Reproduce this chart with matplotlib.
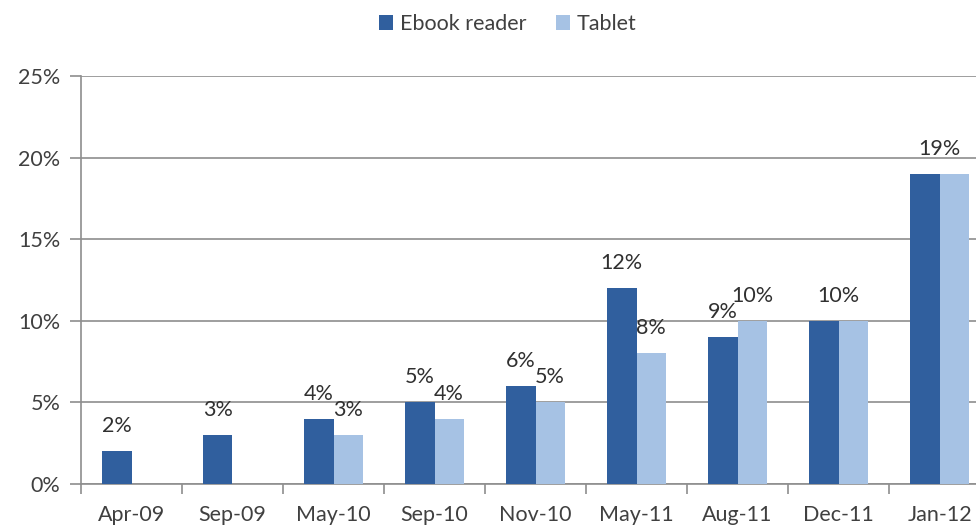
import numpy as np
import matplotlib
matplotlib.use("Agg")
import matplotlib.pyplot as plt
from matplotlib.ticker import FixedLocator, FuncFormatter

categories = ["Apr-09", "Sep-09", "May-10", "Sep-10", "Nov-10",
              "May-11", "Aug-11", "Dec-11", "Jan-12"]
ebook = [2, 3, 4, 5, 6, 12, 9, 10, 19]
tablet = [np.nan, np.nan, 3, 4, 5, 8, 10, 10, 19]
series_names = ["Ebook reader", "Tablet"]

plt.rcParams['font.family'] = ['Lato', 'DejaVu Sans']
text_color = '#404040'
c_ebook = '#305F9E'
c_tablet = '#A6C2E4'
grid_color = '#8E8E8E'
fs = 15.5

fig = plt.figure(figsize=(9.76, 5.26), dpi=100)
ax = fig.add_axes([81 / 976, 42 / 526, 909 / 976, 408 / 526])

x = np.arange(len(categories))
w = 0.29
ax.bar(x - w / 2, ebook, width=w, color=c_ebook, label=series_names[0], zorder=3)
ax.bar(x + w / 2, tablet, width=w, color=c_tablet, label=series_names[1], zorder=3)

ax.set_xlim(-0.5, len(categories) - 0.5)
ax.set_ylim(0, 25)
ax.set_yticks(np.arange(0, 26, 5))
ax.yaxis.set_major_formatter(FuncFormatter(lambda v, p: f"{v:.0f}%"))
ax.grid(axis='y', color=grid_color, linewidth=1.2, zorder=0)

ax.set_xticks(x)
ax.set_xticklabels(categories)
ax.xaxis.set_minor_locator(FixedLocator(np.arange(-0.5, len(categories), 1.0)))
ax.tick_params(axis='x', which='major', length=0, pad=15, labelsize=fs, labelcolor=text_color)
ax.tick_params(axis='x', which='minor', length=7, width=1.2, color=grid_color, direction='out')
ax.tick_params(axis='y', length=8, width=1.2, color=grid_color, pad=7, labelsize=fs,
               labelcolor=text_color)

for s in ['top', 'right']:
    ax.spines[s].set_visible(False)
for s in ['left', 'bottom']:
    ax.spines[s].set_color(grid_color)
    ax.spines[s].set_linewidth(1.2)

# data labels
for i in range(len(categories)):
    e, t = ebook[i], tablet[i]
    if not np.isnan(t) and e == t:
        pts = [(x[i], e)]
    else:
        pts = [(x[i] - w / 2, e)]
        if not np.isnan(t):
            pts.append((x[i] + w / 2, t))
    for px, val in pts:
        ax.annotate(f"{val:.0f}%", (px, val), xytext=(0, 18), textcoords='offset points',
                    ha='center', va='center', fontsize=fs, color='#303030')

fig.legend(loc='center', bbox_to_anchor=(508 / 976, 1 - 24 / 526), ncol=2, frameon=False,
           fontsize=fs, handlelength=0.65, handleheight=0.65, handletextpad=0.3,
           columnspacing=1.4, labelcolor=text_color)

fig.savefig("out.png", dpi=100)
